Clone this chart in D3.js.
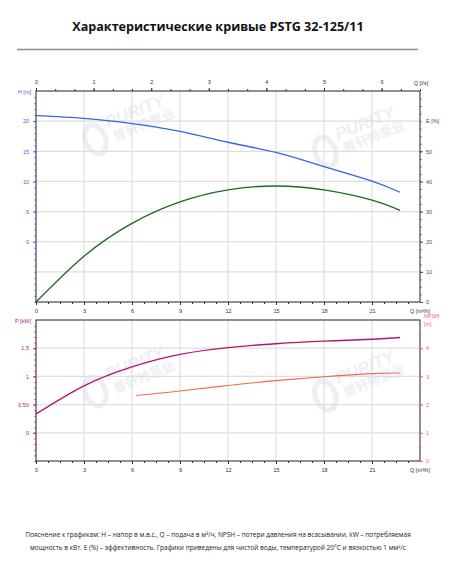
<!DOCTYPE html>
<html><head><meta charset="utf-8">
<script src="https://cdn.jsdelivr.net/npm/d3@7"></script>
<style>body{margin:0;background:#fff}svg{display:block}</style>
</head><body>
<script>
// ---- data ----
const title = "Характеристические кривые PSTG 32-125/11";
const qTicksM3h = [0,3,6,9,12,15,18,21];
const qTicksLs = [0,1,2,3,4,5,6];
const hTicks = [0,5,10,15,20];
const eTicks = [0,10,20,30,40,50];
const pTicks = [0,0.5,1,1.5];
const npshTicks = [0,1,2,3,4];

const qMain = [0,3,6,9,12,15,18,21,22.75];
const headH = [20.9,20.45,19.6,18.3,16.5,14.8,12.45,10.05,8.2];
const effE  = [0,15.2,26.1,33.2,37.2,38.5,37.2,33.8,30.4];
const powerP = [0.334,0.834,1.17,1.39,1.51,1.58,1.625,1.66,1.69];
const qNpsh = [6.25,9,12,15,18,21,22.75];
const npshV = [2.32,2.48,2.68,2.85,2.99,3.1,3.12];

const note1 = "Пояснение к графикам: H – напор в м.в.с., Q – подача в м³/ч, NPSH – потери давления на всасывании, kW – потребляемая";
const note2 = "мощность в кВт. E (%) – эффективность.  Графики приведены для чистой воды, температурой 20°C и вязкостью 1 мм²/с";

// ---- layout ----
const W=454,H=567;
const FONT="'Liberation Sans', Arial, sans-serif";
const cH="#3b62e6", cE="#1d6b1d", cP="#b5146f", cN="#f26a52";
const svg=d3.select("body").append("svg").attr("width",W).attr("height",H);

svg.append("text").attr("x",218).attr("y",31).attr("text-anchor","middle")
  .attr("font-family","'Open Sans', sans-serif").attr("font-weight","bold").attr("font-size",12.6)
  .attr("fill","#111").text(title);
svg.append("line").attr("x1",17).attr("x2",418).attr("y1",49.5).attr("y2",49.5)
  .attr("stroke","#8c8c8c").attr("stroke-width",1.6);

const x=d3.scaleLinear().domain([0,24]).range([36,420]);
const xLs=d3.scaleLinear().domain([0,24/3.6]).range([36,420]);
const y1=d3.scaleLinear().domain([-10,25]).range([302,91]);
const yE=d3.scaleLinear().domain([0,70]).range([302,91]);
const y2=d3.scaleLinear().domain([-0.5,2]).range([461,320]);
const yN=d3.scaleLinear().domain([0,5]).range([461,320]);

// watermarks
function wm(cx,cy){
  const g=svg.append("g").attr("transform",`translate(${cx},${cy}) rotate(-22)`).attr("opacity",0.35);
  g.append("text").attr("x",0).attr("y",0).attr("font-family",FONT).attr("font-weight","bold").attr("font-style","italic")
   .attr("font-size",17).attr("fill","#c9d2e6").text("PURITY");
  g.append("text").attr("x",2).attr("y",15).attr("font-family","'Noto Sans CJK SC', sans-serif").attr("font-weight","bold")
   .attr("font-size",13).attr("fill","#c9d2e6").text("普轩特泵业");
  g.append("ellipse").attr("cx",-16).attr("cy",6).attr("rx",10).attr("ry",15).attr("fill","none").attr("stroke","#c9d2e6").attr("stroke-width",5);
}
wm(108,128); wm(338,140); wm(108,380); wm(338,384);

// gridlines
function grid(yscale,vals,top,bot){
  const g=svg.append("g");
  g.selectAll("line.v").data(qTicksM3h.slice(1)).join("line")
   .attr("x1",d=>x(d)).attr("x2",d=>x(d)).attr("y1",top).attr("y2",bot).attr("stroke","#d9d9d9").attr("stroke-width",1);
  g.selectAll("line.h").data(vals).join("line")
   .attr("x1",36).attr("x2",420).attr("y1",d=>yscale(d)).attr("y2",d=>yscale(d)).attr("stroke","#dedede").attr("stroke-width",1.2);
}
grid(y1,[-5,0,5,10,15,20],91,302);
grid(y2,[0,0.5,1,1.5],320,461);

// frames
function frame(top,bot){
  svg.append("rect").attr("x",36).attr("y",top).attr("width",384).attr("height",bot-top)
   .attr("fill","none").attr("stroke","#333").attr("stroke-width",1.1);
}
frame(91,302); frame(320,461);

const tickFont={ "font-family":FONT, "font-size":5.5 };
function applyFont(sel){ for(const k in tickFont) sel.attr(k,tickFont[k]); return sel; }

function axisG(axis,tr,col){
  const g=svg.append("g").attr("transform",tr).call(axis);
  g.select(".domain").remove();
  g.selectAll("line").attr("stroke","#333");
  applyFont(g.selectAll("text")).attr("fill",col);
  return g;
}
// top chart top axis (l/s)
axisG(d3.axisTop(xLs).tickValues(qTicksLs).tickSize(3).tickPadding(4).tickFormat(d3.format("d")),"translate(0,91)","#333");
axisG(d3.axisTop(xLs).tickValues(d3.range(0,6.67,1/3)).tickSize(2).tickFormat(""),"translate(0,91)","#333");
svg.append("text").attr("x",421).attr("y",85).attr("text-anchor","middle").call(applyFont).attr("fill","#333").text("Q [l/s]");
// shared middle axis (m3/h)
axisG(d3.axisBottom(x).tickValues(qTicksM3h).tickSize(3).tickPadding(4).tickFormat(d3.format("d")),"translate(0,302)","#333");
axisG(d3.axisBottom(x).tickValues(d3.range(0,24,0.75)).tickSize(2).tickFormat(""),"translate(0,302)","#333");
svg.append("text").attr("x",420).attr("y",313).attr("text-anchor","middle").call(applyFont).attr("fill","#333").text("Q [m³/h]");
// bottom axis
axisG(d3.axisBottom(x).tickValues(qTicksM3h).tickSize(3).tickPadding(4).tickFormat(d3.format("d")),"translate(0,461)","#333");
axisG(d3.axisBottom(x).tickValues(d3.range(0,24,0.75)).tickSize(2).tickFormat(""),"translate(0,461)","#333");
svg.append("text").attr("x",420).attr("y",472).attr("text-anchor","middle").call(applyFont).attr("fill","#333").text("Q [m³/h]");

// left H axis
axisG(d3.axisLeft(y1).tickValues(hTicks).tickSize(3).tickPadding(4).tickFormat(d3.format("d")),"translate(36,0)",cH).selectAll("line").attr("stroke",cH);
axisG(d3.axisLeft(y1).tickValues(d3.range(-10,25,1)).tickSize(1.5).tickFormat(""),"translate(36,0)",cH).selectAll("line").attr("stroke",cH);
svg.append("text").attr("x",31).attr("y",94).attr("text-anchor","end").call(applyFont).attr("fill",cH).text("H [m]");
// right E axis
axisG(d3.axisRight(yE).tickValues(eTicks).tickSize(3).tickPadding(3).tickFormat(d3.format("d")),"translate(420,0)",cE).selectAll("line").attr("stroke",cE);
axisG(d3.axisRight(yE).tickValues(d3.range(0,70,2.5)).tickSize(1.5).tickFormat(""),"translate(420,0)",cE).selectAll("line").attr("stroke",cE);
svg.append("text").attr("x",426).attr("y",yE(60)+2).call(applyFont).attr("fill",cE).text("E [%]");
// left P axis
axisG(d3.axisLeft(y2).tickValues(pTicks).tickSize(3).tickPadding(4).tickFormat(d=>d===0.5?"0.50":d3.format("")(d)),"translate(36,0)",cP).selectAll("line").attr("stroke",cP);
axisG(d3.axisLeft(y2).tickValues(d3.range(-0.5,2,0.1)).tickSize(1.5).tickFormat(""),"translate(36,0)",cP).selectAll("line").attr("stroke",cP);
svg.append("text").attr("x",31).attr("y",323).attr("text-anchor","end").call(applyFont).attr("fill",cP).text("P [kW]");
// right NPSH axis
axisG(d3.axisRight(yN).tickValues(npshTicks).tickSize(3).tickPadding(3).tickFormat(d3.format("d")),"translate(420,0)",cN).selectAll("line").attr("stroke",cN);
axisG(d3.axisRight(yN).tickValues(d3.range(0,5,0.5)).tickSize(1.5).tickFormat(""),"translate(420,0)",cN).selectAll("line").attr("stroke",cN);
svg.append("text").attr("x",424).attr("y",318).call(applyFont).attr("fill",cN).text("NPSH");
svg.append("text").attr("x",424).attr("y",326).call(applyFont).attr("fill",cN).text("[m]");

// curves
const line=(ys)=>d3.line().x(d=>x(d[0])).y(d=>ys(d[1])).curve(d3.curveNatural);
svg.append("path").datum(d3.zip(qMain,headH)).attr("d",line(y1)).attr("fill","none").attr("stroke",cH).attr("stroke-width",1.3);
svg.append("path").datum(d3.zip(qMain,effE)).attr("d",line(yE)).attr("fill","none").attr("stroke",cE).attr("stroke-width",1.4);
svg.append("path").datum(d3.zip(qMain,powerP)).attr("d",line(y2)).attr("fill","none").attr("stroke",cP).attr("stroke-width",1.4);
svg.append("path").datum(d3.zip(qNpsh,npshV)).attr("d",line(yN)).attr("fill","none").attr("stroke",cN).attr("stroke-width",1.1);

// note
[note1,note2].forEach((t,i)=>{
  svg.append("text").attr("x",218).attr("y",537+i*12.5).attr("text-anchor","middle")
   .attr("font-family","'Open Sans', sans-serif").attr("font-size",6.5).attr("fill","#222").text(t);
});
</script>
</body></html>
